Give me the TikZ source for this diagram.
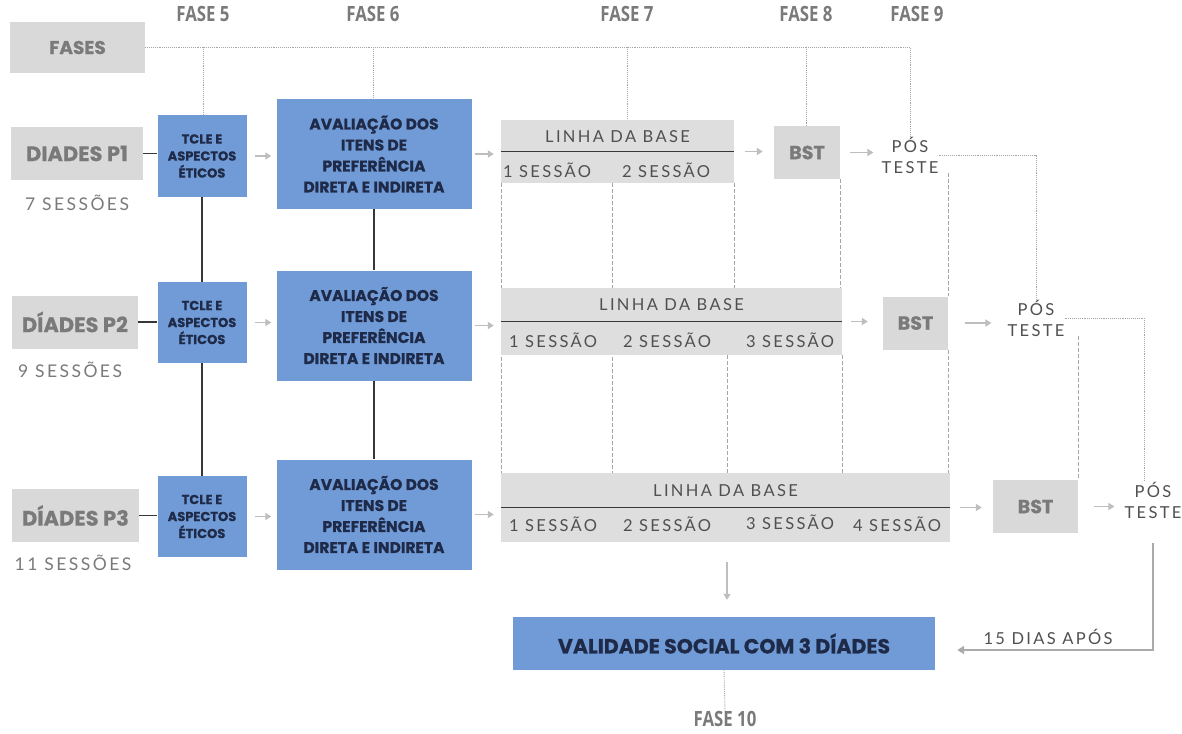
\documentclass[tikz,border=0pt]{standalone}
\usepackage{fontspec}
\setmainfont{Poppins}[BoldFeatures={FakeBold=0.6}]
\newfontfamily\spc[LetterSpace=14]{Lato}
\newfontfamily\cond[FakeStretch=0.8]{Open Sans}
\usetikzlibrary{arrows.meta,backgrounds}
\definecolor{cblue}{RGB}{112,155,214}
\definecolor{cnavy}{RGB}{30,42,72}
\definecolor{cgray}{RGB}{217,217,217}
\definecolor{clgray}{RGB}{222,222,222}
\definecolor{ctxt}{RGB}{122,122,122}
\definecolor{cdark}{RGB}{80,80,80}
\definecolor{carrow}{RGB}{190,190,190}
\definecolor{cline}{RGB}{55,55,55}
\definecolor{cdash}{RGB}{165,165,165}
\definecolor{cret}{RGB}{170,170,170}
\tikzset{
  bluebox/.style={fill=cblue, text=cnavy, align=center, inner sep=0pt, font=\bfseries\fontsize{15.5}{21}\selectfont},
  tclebox/.style={bluebox, font=\bfseries\fontsize{13}{17}\selectfont, minimum width=89pt, minimum height=81pt},
  avbox/.style={bluebox, minimum width=195pt, minimum height=110pt},
  graybox/.style={fill=cgray, text=ctxt, inner sep=0pt, font=\bfseries\fontsize{21}{22}\selectfont, minimum height=53pt},
  bstbox/.style={fill=cgray, text=ctxt, inner sep=0pt, font=\bfseries\fontsize{19}{20}\selectfont, minimum height=53pt},
  basebox/.style={fill=clgray, inner sep=0pt},
  spaced/.style={font=\spc\fontsize{16.5}{21}\selectfont, text=cdark, inner sep=0pt, align=center},
  sess/.style={font=\spc\fontsize{17.5}{20}\selectfont, text=ctxt, inner sep=0pt},
  faselbl/.style={font=\cond\bfseries\fontsize{21}{22}\selectfont, text=ctxt, inner sep=0pt},
  link/.style={draw=cline, line width=1.8pt},
  divider/.style={draw=cline, line width=1.8pt},
  garrow/.style={draw=carrow, line width=1.6pt, -{Triangle[length=6pt,width=7pt]}},
  retarrow/.style={draw=cret, line width=2pt, -{Triangle[length=7pt,width=8pt]}},
  vdash/.style={draw=cdash, dash pattern=on 4pt off 2pt, line width=0.6pt},
  pdot/.style={draw=cdash, densely dotted, line width=0.9pt}
}
\begin{document}
\begin{tikzpicture}[x=1pt,y=-1pt]
\useasboundingbox (0,0) rectangle (1182,733);

% phase labels
\node[graybox, minimum width=135pt, minimum height=51pt, font=\bfseries\fontsize{18.5}{20}\selectfont] (fases) at (77.5,47.5) {FASES};
\node[faselbl] (f5) at (203,14) {FASE 5};
\node[faselbl] (f6) at (373,14) {FASE 6};
\node[faselbl] (f7) at (627,14) {FASE 7};
\node[faselbl] (f8) at (806,14) {FASE 8};
\node[faselbl] (f9) at (917,14) {FASE 9};

% row 1
\node[graybox, minimum width=132pt] (d1) at (77,153.5) {DIADES P1};
\node[sess] (s1) at (77,203) {7 SESSÕES};
\node[tclebox] (t1) at (202,156) {TCLE E\\ASPECTOS\\ÉTICOS};
\node[avbox] (a1) at (374,154) {AVALIAÇÃO DOS\\ITENS DE\\PREFERÊNCIA\\DIRETA E INDIRETA};
\node[basebox, minimum width=233pt, minimum height=62pt] (l1) at (617.5,151.5) {};
\node[spaced] (l1t) at (617.5,137) {LINHA DA BASE};
\node[spaced] (l1a) at (547,170) {1 SESSÃO};
\node[spaced] (l1b) at (666,170) {2 SESSÃO};
\node[bstbox, minimum width=66pt] (b1) at (807,152.5) {BST};
\node[spaced] (p1) at (910,155) {PÓS\\TESTE};

% row 2
\node[graybox, minimum width=126pt] (d2) at (75,322) {DÍADES P2};
\node[sess] (s2) at (70,370) {9 SESSÕES};
\node[tclebox] (t2) at (202,322.5) {TCLE E\\ASPECTOS\\ÉTICOS};
\node[avbox] (a2) at (374,325.5) {AVALIAÇÃO DOS\\ITENS DE\\PREFERÊNCIA\\DIRETA E INDIRETA};
\node[basebox, minimum width=341pt, minimum height=67pt] (l2) at (671.5,321.5) {};
\node[spaced] (l2t) at (671.5,305) {LINHA DA BASE};
\node[spaced] (l2a) at (553,340) {1 SESSÃO};
\node[spaced] (l2b) at (667,340) {2 SESSÃO};
\node[spaced] (l2c) at (790,340) {3 SESSÃO};
\node[bstbox, minimum width=65pt] (b2) at (915.5,323) {BST};
\node[spaced] (p2) at (1036,318) {PÓS\\TESTE};

% row 3
\node[graybox, minimum width=127pt] (d3) at (75.5,515.5) {DÍADES P3};
\node[sess] (s3) at (73,563) {11 SESSÕES};
\node[tclebox] (t3) at (202,516.5) {TCLE E\\ASPECTOS\\ÉTICOS};
\node[avbox] (a3) at (374,514.5) {AVALIAÇÃO DOS\\ITENS DE\\PREFERÊNCIA\\DIRETA E INDIRETA};
\node[basebox, minimum width=449pt, minimum height=69pt] (l3) at (725.5,507.5) {};
\node[spaced] (l3t) at (725.5,491) {LINHA DA BASE};
\node[spaced] (l3a) at (553,524) {1 SESSÃO};
\node[spaced] (l3b) at (667,524) {2 SESSÃO};
\node[spaced] (l3c) at (790,522) {3 SESSÃO};
\node[spaced] (l3d) at (897,524) {4 SESSÃO};
\node[bstbox, minimum width=85pt] (b3) at (1035.5,506.5) {BST};
\node[spaced] (p3) at (1153,500) {PÓS\\TESTE};

% final
\node[bluebox, minimum width=422pt, minimum height=53pt, font=\bfseries\fontsize{20.5}{22}\selectfont] (val) at (724,643.5) {VALIDADE SOCIAL COM 3 DÍADES};
\node[faselbl] (f10) at (725,719) {FASE 10};
\node[spaced] (dias) at (1048,637) {15 DIAS APÓS};

% dividers
\draw[divider] (l1.west) -- (l1.east);
\draw[divider] (l2.west) -- (l2.east);
\draw[divider] (l3.west) -- (l3.east);

% helper coordinates
\coordinate (c612) at (612,0);
\coordinate (c727) at (727,0);
\coordinate (c1144) at (1144,0);
\coordinate (c650) at (1155,650);

\begin{scope}[on background layer]
  \fill[white] (0,0) rectangle (1182,733);
  % phase dotted lines
  \draw[pdot] (fases.east) -- (fases.east -| p1.north) -- (p1.north);
  \draw[pdot] (fases.east -| f5) -- (t1.north -| f5);
  \draw[pdot] (fases.east -| f6) -- (a1.north -| f6);
  \draw[pdot] (fases.east -| f7) -- (l1.north -| f7);
  \draw[pdot] (fases.east -| f8) -- (b1.north -| f8);
  \draw[pdot] (p1.east) -- (p1.east -| p2.north) -- (p2.north);
  \draw[pdot] (p2.east) -- (p2.east -| c1144) -- (p3.north -| c1144);
  \draw[pdot] (val.south) -- (f10.north);
  % dashed session guides
  \draw[vdash] (l1.south west) -- (l3.north west);
  \draw[vdash] (l1.south -| c612) -- (l3.north -| c612);
  \draw[vdash] (l1.south east) -- (l2.north -| l1.east);
  \draw[vdash] (l2.south -| c727) -- (l3.north -| c727);
  \draw[vdash] (b1.south east) -- (b1.south east |- l2.north);
  \draw[vdash] (l2.south east) -- (l2.south east |- l3.north);
  \draw[vdash] (b2.north east |- p1.south) -- (b2.north east);
  \draw[vdash] (b2.south east) -- (b2.south east |- l3.north);
  \draw[vdash] (b3.north east |- p2.south) -- (b3.north east);
\end{scope}

% solid links
\draw[link] (d1.east) -- (d1.east -| t1.west);
\draw[link] (d2.east) -- (d2.east -| t2.west);
\draw[link] (d3.east) -- (d3.east -| t3.west);
\draw[link] (t1.south) -- (t2.north);
\draw[link] (t2.south) -- (t3.north);
\draw[link] (a1.south) -- (a2.north);
\draw[link] (a2.south) -- (a3.north);

% gray arrows
\draw[garrow, shorten <=8pt, shorten >=5pt] (t1.east) -- (t1.east -| a1.west);
\draw[garrow, shorten <=8pt, shorten >=5pt] (t2.east) -- (t2.east -| a2.west);
\draw[garrow, shorten <=8pt, shorten >=5pt] (t3.east) -- (t3.east -| a3.west);
\draw[garrow, shorten <=3pt, shorten >=7pt] (a1.east) -- (a1.east -| l1.west);
\draw[garrow, shorten <=3pt, shorten >=7pt] (a2.east) -- (a2.east -| l2.west);
\draw[garrow, shorten <=3pt, shorten >=7pt] (a3.east) -- (a3.east -| l3.west);
\draw[garrow, shorten <=11pt, shorten >=11pt] (l1.east) -- (l1.east -| b1.west);
\draw[garrow, shorten <=9pt, shorten >=15pt] (l2.east) -- (l2.east -| b2.west);
\draw[garrow, shorten <=10pt, shorten >=11pt] (l3.east) -- (l3.east -| b3.west);
\draw[garrow, shorten <=10pt, shorten >=8pt] (b1.east) -- (b1.east -| p1.west);
\draw[garrow, shorten <=17pt, shorten >=16pt] (b2.east) -- (b2.east -| p2.west);
\draw[garrow, shorten <=16pt, shorten >=10pt] (b3.east) -- (b3.east -| p3.west);
\draw[garrow, shorten <=20pt, shorten >=17pt] (l3.south -| c727) -- (val.north -| c727);
\draw[retarrow, shorten <=25pt, shorten >=22pt] (p3.south) -- (p3.south |- c650) -- (val.east |- c650);
\end{tikzpicture}
\end{document}
